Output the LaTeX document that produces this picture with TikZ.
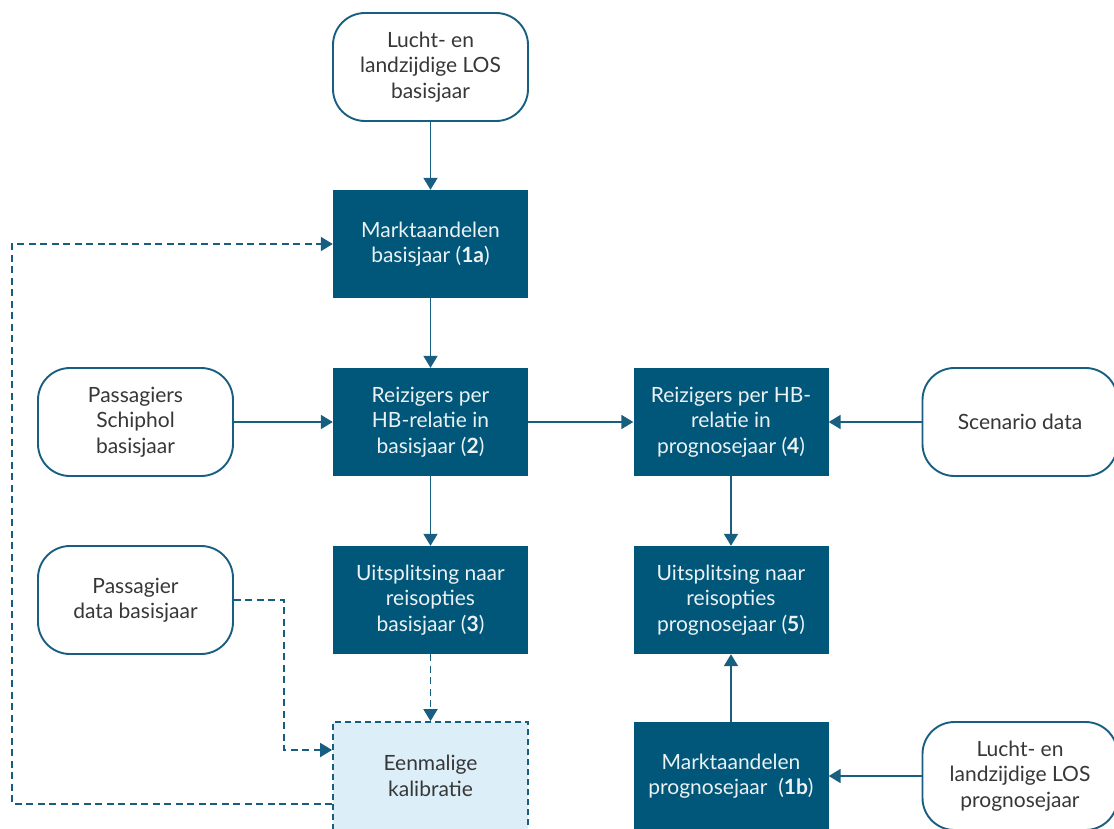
\documentclass[tikz,border=0pt]{standalone}
\usepackage{fontspec}
\setmainfont{Lato}
\usetikzlibrary{arrows.meta}
\definecolor{navy}{RGB}{0,87,122}
\definecolor{edge}{RGB}{24,94,128}
\definecolor{paleblue}{RGB}{220,239,248}
\definecolor{inktext}{RGB}{55,55,55}
\definecolor{boxtext}{RGB}{236,241,244}
\begin{document}
\begin{tikzpicture}[x=1pt,y=-1pt,
  base/.style={minimum width=195pt, minimum height=108pt, inner sep=0pt,
    align=center, font=\fontsize{21}{25.5}\selectfont},
  source/.style={base, draw=edge, line width=1.9pt, rounded corners=32pt,
    fill=white, text=inktext},
  stepbox/.style={base, fill=navy, text=boxtext},
  calib/.style={base, draw=edge, fill=paleblue, dash pattern=on 6pt off 4pt,
    line width=1.8pt, text=inktext},
  flow/.style={draw=edge, line width=1.9pt, -{Triangle[length=12pt,width=14pt]}},
  dflow/.style={flow, dash pattern=on 7pt off 4.5pt}]
\useasboundingbox (0,0) rectangle (1114,828);

% inputs
\node[source] (los1) at (430.5,67) {Lucht- en\\landzijdige LOS\\basisjaar};
\node[source] (schiphol) at (135.5,422) {Passagiers\\Schiphol\\basisjaar};
\node[source] (pdata) at (135.5,600) {Passagier\\data basisjaar};
\node[source] (scen) at (1020,422) {Scenario data};
\node[source] (los2) at (1020,776) {Lucht- en\\landzijdige LOS\\prognosejaar};

% model steps
\node[stepbox] (m1a) at (430.5,244) {Marktaandelen\\basisjaar (\textbf{1a})};
\node[stepbox] (r2) at (430.5,422) {Reizigers per\\HB-relatie in\\basisjaar (\textbf{2})};
\node[stepbox] (u3) at (430.5,600) {Uitsplitsing naar\\reisopties\\basisjaar (\textbf{3})};
\node[calib] (kal) at (430.5,776) {Eenmalige\\kalibratie};
\node[stepbox] (r4) at (731,422) {Reizigers per HB-\\relatie in\\prognosejaar (\textbf{4})};
\node[stepbox] (u5) at (731,600) {Uitsplitsing naar\\reisopties\\prognosejaar (\textbf{5})};
\node[stepbox] (m1b) at (731,776) {Marktaandelen\\prognosejaar~ (\textbf{1b})};

% solid flows
\draw[flow] (los1) -- (m1a);
\draw[flow] (m1a) -- (r2);
\draw[flow] (schiphol) -- (r2);
\draw[flow] (r2) -- (r4);
\draw[flow] (r2) -- (u3);
\draw[flow] (scen) -- (r4);
\draw[flow] (r4) -- (u5);
\draw[flow] (m1b) -- (u5);
\draw[flow] (los2) -- (m1b);

% calibration flows
\draw[dflow] (u3) -- (kal);
\draw[dflow] (pdata.east) -| (284,750) -- (kal.west |- 284,750);
\draw[dflow] (kal.west |- 0,804) -- (12,804) |- (m1a.west);
\end{tikzpicture}
\end{document}
